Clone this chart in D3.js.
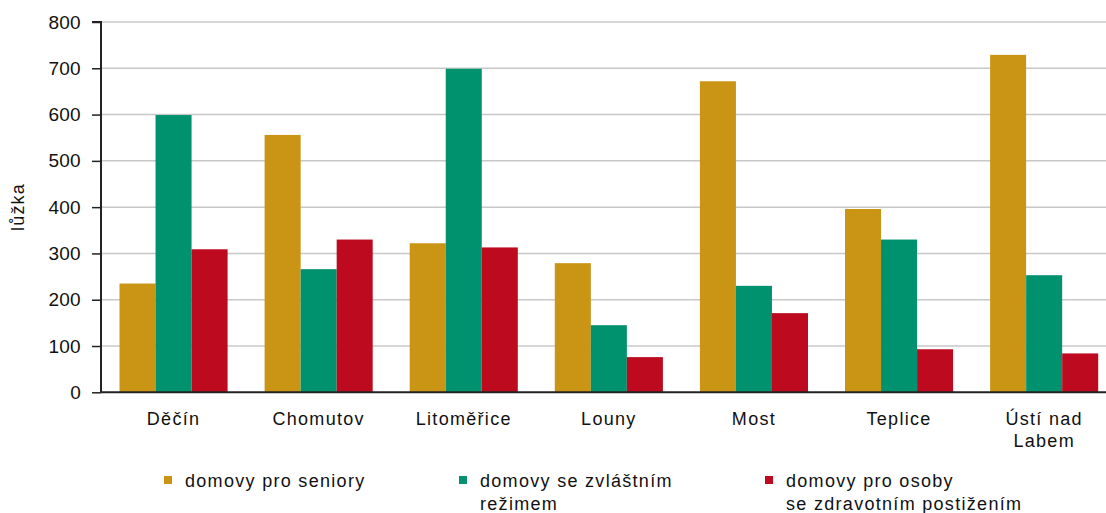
<!DOCTYPE html>
<html><head><meta charset="utf-8">
<script src="https://cdn.jsdelivr.net/npm/d3@7/dist/d3.min.js"></script>
<style>
body{margin:0;background:#fff;}
text{font-family:"Liberation Sans",Arial,sans-serif;fill:#111;}
</style></head>
<body><svg id="c" width="1106" height="513"></svg>
<script>
const categories = ["Děčín","Chomutov","Litoměřice","Louny","Most","Teplice","Ústí nad\nLabem"];
const seriesNames = ["domovy pro seniory","domovy se zvláštním\nrežimem","domovy pro osoby\nse zdravotním postižením"];
const seniory = [235, 556, 322, 279, 672, 396, 729];
const zvlastni = [599, 266, 699, 145, 230, 330, 253];
const postizeni = [309, 330, 313, 76, 171, 93, 84];
const colors = ["#CA9514","#00926E","#BD0A1F"];
const yTicks = [0,100,200,300,400,500,600,700,800];

const series = [seniory, zvlastni, postizeni];
const svg = d3.select("#c");
const mLeft = 101, mTop = 22, mBottom = 392.3;
const x = d3.scaleBand().domain(categories).range([mLeft, mLeft + 7*145.1]).paddingInner(0.255).paddingOuter(0.1275);
const xs = d3.scaleBand().domain([0,1,2]).range([0, x.bandwidth()]);
const y = d3.scaleLinear().domain([0,800]).range([mBottom, mTop]);

// gridlines
svg.append("g").selectAll("line").data(yTicks.filter(d=>d>0)).join("line")
  .attr("x1", mLeft).attr("x2", 1106).attr("y1", d=>y(d)).attr("y2", d=>y(d))
  .attr("stroke","#c8c8c8").attr("stroke-width",1.5);

// bars
series.forEach((vals, si) => {
  svg.append("g").selectAll("rect").data(vals).join("rect")
    .attr("x", (d,i)=>x(categories[i]) + xs(si))
    .attr("width", xs.bandwidth())
    .attr("y", d=>y(d)).attr("height", d=>mBottom - y(d))
    .attr("fill", colors[si]);
});

// y axis
const ya = d3.axisLeft(y).tickValues(yTicks).tickSize(9).tickPadding(11);
const gy = svg.append("g").attr("transform",`translate(${mLeft},0)`).call(ya);
gy.select(".domain").attr("stroke","#222").attr("stroke-width",2).attr("d",`M-9,${mTop}H0V${mBottom}`);
gy.selectAll(".tick line").attr("stroke","#222").attr("stroke-width",1.5);
gy.selectAll(".tick text").attr("font-size",19).attr("letter-spacing","0.3px").attr("fill","#111")
  .style("font-family","'Liberation Sans',Arial,sans-serif");

// x axis baseline
svg.append("line").attr("x1",mLeft).attr("x2",1106).attr("y1",mBottom).attr("y2",mBottom)
  .attr("stroke","#222").attr("stroke-width",2);

// x labels
const xl = svg.append("g").selectAll("text").data(categories).join("text")
  .attr("text-anchor","middle").attr("font-size",18).attr("letter-spacing","1.3px")
  .attr("transform", d=>`translate(${x(d)+x.bandwidth()/2},425)`);
xl.each(function(d){
  const t = d3.select(this);
  d.split("\n").forEach((ln,i)=>t.append("tspan").attr("x",0).attr("dy", i?22:0).text(ln));
});

// y title
svg.append("text").attr("transform","translate(24,207) rotate(-90)")
  .attr("text-anchor","middle").attr("font-size",18).attr("letter-spacing","1.2px").text("lůžka");

// legend
const legX = [164, 459, 765];
seriesNames.forEach((name, i) => {
  const g = svg.append("g").attr("transform",`translate(${legX[i]},0)`);
  g.append("rect").attr("x",0).attr("y",476).attr("width",8).attr("height",8).attr("fill",colors[i]);
  const t = g.append("text").attr("x",21).attr("y",487).attr("font-size",18).attr("letter-spacing","1.3px");
  name.split("\n").forEach((ln,j)=>t.append("tspan").attr("x",21).attr("dy", j?23:0).text(ln));
});
</script></body></html>
